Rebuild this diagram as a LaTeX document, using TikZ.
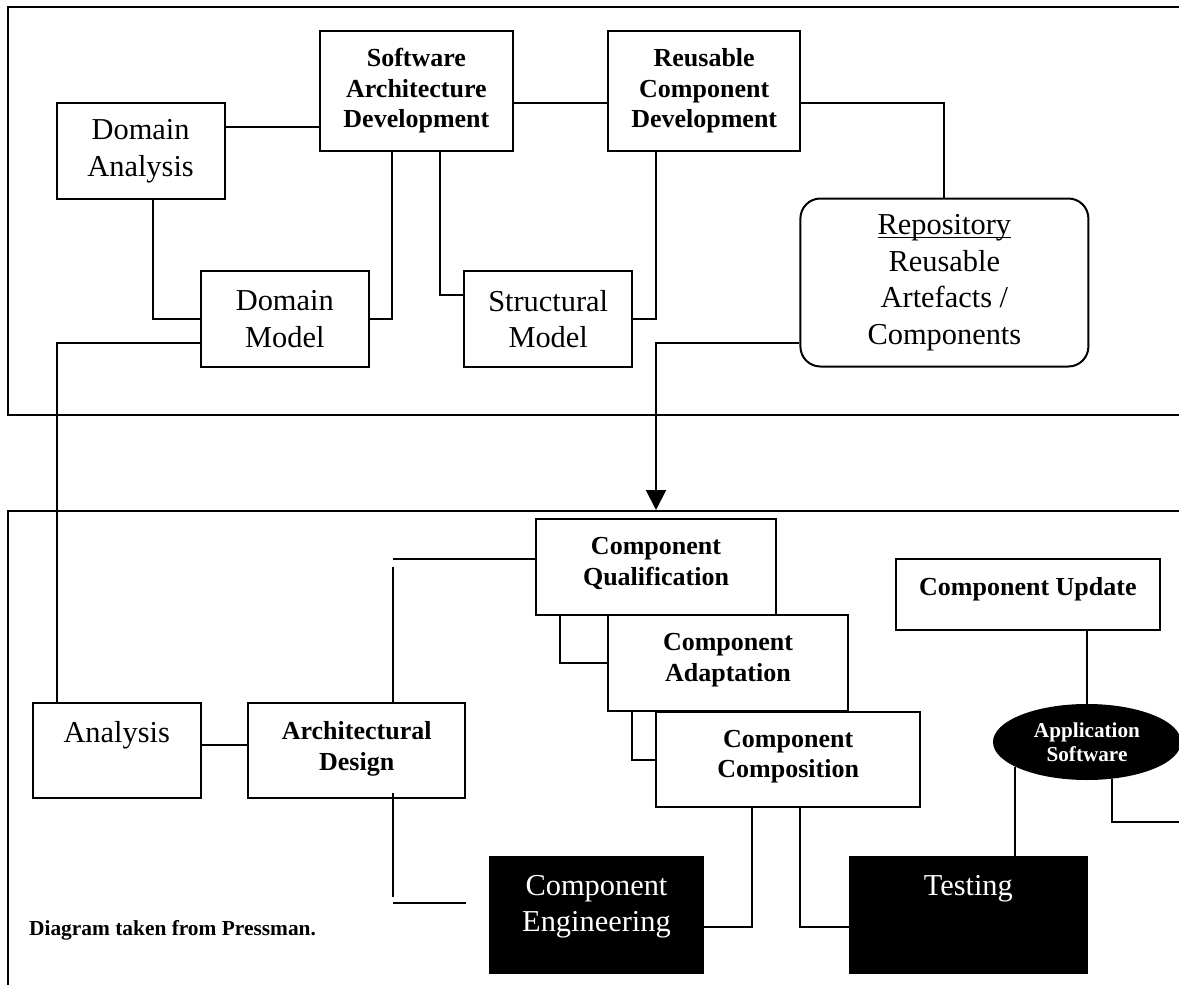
\documentclass[tikz,border=0pt]{standalone}
\usepackage{fontspec}
\setmainfont{Liberation Serif}
\usepackage{tikz}
\usetikzlibrary{arrows.meta}
\usetikzlibrary{shapes.geometric}

\tikzset{
  box/.style={draw, line width=1pt, fill=white, align=center, inner sep=0pt},
  bigtext/.style={font=\fontsize{15.2}{18.3}\selectfont},
  boldtext/.style={font=\fontsize{13}{15.3}\selectfont\bfseries},
  toptext/.style={anchor=north, inner sep=0pt, yshift=-9.5pt, align=center},
  link/.style={line width=1pt},
}

\begin{document}
\begin{tikzpicture}[x=0.5pt, y=-0.5pt]
      \useasboundingbox (0,0) rectangle (1179,985);
      \draw[link] (1179,7) -- (8,7) -- (8,415) -- (1179,415);
      \draw[link] (1179,511) -- (8,511) -- (8,985);

      \node[box, bigtext, minimum width=84pt, minimum height=48pt] (da) at (140.6,151) {Domain\\Analysis};
      \node[box, boldtext, minimum width=96.4pt, minimum height=60pt] (sad) at (416.4,91) {Software\\Architecture\\Development};
      \node[box, bigtext, minimum width=84pt, minimum height=48pt] (dm) at (284.8,319) {Domain\\Model};
      \node[box, bigtext, minimum width=84pt, minimum height=48pt] (sm) at (548.2,319) {Structural\\Model};
      \node[box, boldtext, minimum width=96pt, minimum height=60pt] (rcd) at (704.2,91) {Reusable\\Component\\Development};
      \node[box, bigtext, rounded corners=10pt, minimum width=144pt, minimum height=84pt] (repo) at (944.4,282.5) {\underline{\raisebox{0pt}[\height][0pt]{Repository}}\\Reusable\\Artefacts /\\Components};

      \node[box, minimum width=84pt, minimum height=47.5pt, label={[toptext, bigtext]north:Analysis}] (ana) at (116.75,750.5) {};
      \node[box, minimum width=108.3pt, minimum height=47.5pt, label={[toptext, boldtext]north:{Architectural\\Design}}] (ad) at (356.7,750.5) {};
      \node[box, minimum width=120pt, minimum height=48pt, label={[toptext, boldtext]north:{Component\\Qualification}}] (cq) at (656,567) {};
      \node[box, minimum width=120pt, minimum height=48pt, label={[toptext, boldtext]north:{Component\\Adaptation}}] (ca) at (728,663) {};
      \node[box, minimum width=131.8pt, minimum height=47.8pt, label={[toptext, boldtext]north:{Component\\Composition}}] (cc) at (788.2,759.5) {};
      \node[box, minimum width=132pt, minimum height=35.8pt, label={[toptext, boldtext]north:Component Update}] (cu) at (1027.9,594.5) {};
      \node[box, fill=black, minimum width=106.5pt, minimum height=58.3pt, label={[toptext, bigtext, text=white]north:{Component\\Engineering}}] (ce) at (596.5,915) {};
      \node[box, fill=black, minimum width=118.6pt, minimum height=58.3pt, label={[toptext, bigtext, text=white]north:Testing}] (test) at (968.3,915) {};
      \node[ellipse, fill=black, text=white, align=center, inner sep=0pt, minimum width=94pt, minimum height=38pt, font=\fontsize{10.6}{12}\selectfont\bfseries] (app) at (1087,742) {Application\\Software};

      \node[anchor=base west, inner sep=0pt, font=\fontsize{10.7}{12}\selectfont\bfseries] (credit) at (28.7,935) {Diagram taken from Pressman.};

      \draw[link] ([yshift=12pt]da.east) -- ([yshift=12pt]da.east -| sad.west);
      \draw[link] ([yshift=-6pt]sad.east) -- ([yshift=-6pt]rcd.west);
      \draw[link] ([yshift=-6pt]rcd.east) -| (repo.north);
      \draw[link] ([xshift=6pt]da.south) |- (dm.west);
      \draw[link] ([xshift=-12pt]sad.south) |- (dm.east);
      \draw[link] ([xshift=12pt]sad.south) |- ([yshift=12pt]sm.west);
      \draw[link] ([xshift=-24pt]rcd.south) |- (sm.east);
      \draw[link] ([yshift=-12pt]dm.west) -| ([xshift=-30pt]ana.north);
      \draw[link, -{Triangle[length=10pt,width=10pt]}] ([yshift=-30pt]repo.west) -| ([yshift=4pt]cq.north);

      \draw[link] ([yshift=3pt]ana.east) -- ([yshift=3pt]ad.west);
      \coordinate (adtop) at ([xshift=18pt]ad.north);
      \coordinate (adbot) at ([xshift=18pt,yshift=3pt]ad.south);
      \draw[link] ([yshift=4pt]cq.west) -- ([yshift=4pt]cq.west -| adtop);
      \draw[link] (adtop) -- (cq.west -| adtop);
      \draw[link] (adbot) -- ([yshift=9pt]ce.east -| adbot);
      \draw[link] ([yshift=6pt]ce.east -| adbot) -- ([yshift=6pt]ce.east -| ad.east);
      \draw[link] ([xshift=-48pt]cq.south) |- (ca.west);
      \draw[link] ([xshift=-48pt]ca.south) |- (cc.west);
      \draw[link] ([xshift=-18pt]cc.south) |- ([yshift=-6pt]ce.east);
      \draw[link] ([xshift=6pt]cc.south) |- ([yshift=-6pt]test.west);
      \draw[link] (app.north) -- (app.north |- cu.south);
      \draw[link] (app.199) -- (app.199 |- test.north);
      \coordinate (offpage) at (1179,822);
      \draw[link] (app.304) |- (offpage);
\end{tikzpicture}
\end{document}
